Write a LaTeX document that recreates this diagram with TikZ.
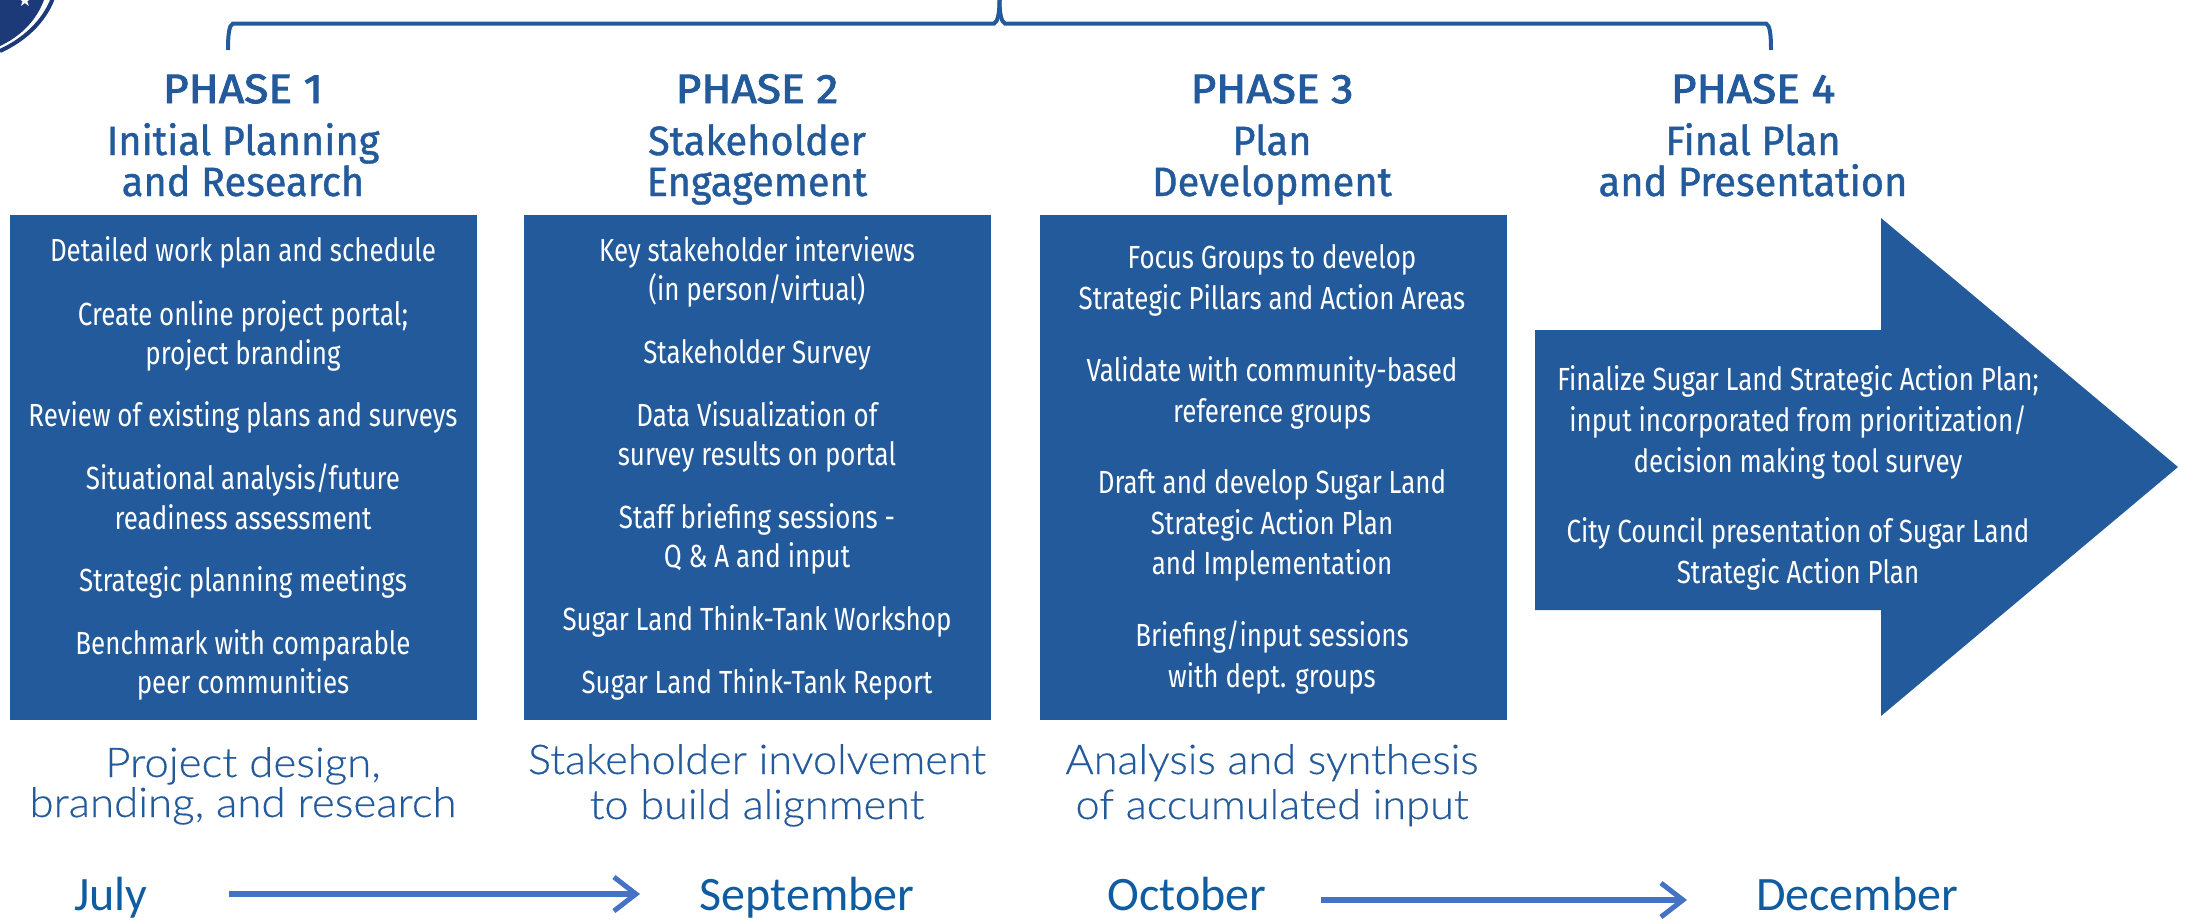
\documentclass[tikz,border=0pt]{standalone}
\usepackage{fontspec}
\usetikzlibrary{arrows.meta}
\setmainfont{Fira Sans}
\newfontfamily\phasef[FakeStretch=1.08,FakeBold=2.4]{Fira Sans}
\newfontfamily\headf[FakeStretch=0.97,FakeBold=1.0]{Fira Sans}
\newfontfamily\bodyf[FakeStretch=0.81]{Fira Sans}
\newfontfamily\capf[FakeStretch=1.055,FakeBold=0.4]{Lato Light}
\newfontfamily\capwf[FakeStretch=1.07,FakeBold=0.4]{Lato Light}
\newfontfamily\monthf{Carlito}
\newfontfamily\symf{DejaVu Sans}
\definecolor{brand}{HTML}{235A9C}
\definecolor{navy}{HTML}{1D3A78}
\definecolor{arrowblue}{HTML}{4472C4}
\definecolor{monthblue}{HTML}{0F5CA0}
\tikzset{
  x=1pt,y=-1pt,
  phasehead/.style={anchor=base,text=brand,font=\phasef\fontsize{41}{41}\selectfont,inner sep=0pt},
  phasetitle/.style={anchor=base,yshift=-1pt,text=brand,font=\headf\fontsize{41}{41}\selectfont,inner sep=0pt},
  item/.style={anchor=base,yshift=-1pt,text=white,font=\bodyf\fontsize{32}{32}\selectfont,inner sep=0pt},
  capt/.style={anchor=base,text=brand,font=\capf\fontsize{41}{41}\selectfont,inner sep=0pt},
  captw/.style={capt,font=\capwf\fontsize{41}{41}\selectfont},
  month/.style={anchor=base,text=monthblue,font=\monthf\fontsize{48}{48}\selectfont,inner sep=0pt},
  panel/.style={fill=brand,draw=none},
  brace/.style={draw=brand,line width=4pt},
  timeline/.style={draw=arrowblue,line width=6pt,-{Straight Barb[length=22pt,width=34pt,line width=5pt]}}
}
\begin{document}
\begin{tikzpicture}
\useasboundingbox (0,0) rectangle (2189,919);
% logo corner
\fill[navy] (0,0) -- (44,0) .. controls (35,24) and (17,38) .. (0,46) -- cycle;
\draw[navy,line width=4pt] (53,-2) .. controls (44,22) and (24,40) .. (0,51);
\node[text=white,font=\symf\fontsize{17}{17}\selectfont,inner sep=0pt] (star) at (25,0) {★};
% bracket
\coordinate (bl) at (228,50); \coordinate (bm) at (999.5,0); \coordinate (br) at (1771,50);
\draw[brace] (bl) .. controls (228,35) and (229,25) .. (233,23.5) -- (994,23.5) .. controls (998,22) and (999.5,12) .. (bm);
\draw[brace] (br) .. controls (1771,35) and (1770,25) .. (1766,23.5) -- (1005,23.5) .. controls (1001,22) and (999.5,12) .. (bm);
% panels
\fill[panel] (10,215) rectangle (477,720);
\fill[panel] (524,215) rectangle (991,720);
\fill[panel] (1040,215) rectangle (1507,720);
\fill[panel] (1535,330) -- (1881,330) -- (1881,218) -- (2178,467) -- (1881,716) -- (1881,610) -- (1535,610) -- cycle;
% headings
\node[phasehead] (p1) at (243,103) {PHASE 1};
\node[phasetitle] (t1a) at (243,154) {Initial Planning};
\node[phasetitle] (t1b) at (243,195) {and Research};
\node[phasehead] (p2) at (757,103) {PHASE 2};
\node[phasetitle] (t2a) at (757,154) {Stakeholder};
\node[phasetitle] (t2b) at (757,195) {Engagement};
\node[phasehead] (p3) at (1272,103) {PHASE 3};
\node[phasetitle] (t3a) at (1272,154) {Plan};
\node[phasetitle] (t3b) at (1272,195) {Development};
\node[phasehead] (p4) at (1753,103) {PHASE 4};
\node[phasetitle] (t4a) at (1753,154) {Final Plan};
\node[phasetitle] (t4b) at (1753,195) {and Presentation};
% box 1
\node[item] (a1) at (243,260) {Detailed work plan and schedule};
\node[item] (a2) at (243,324) {Create online project portal;};
\node[item] (a3) at (243,363) {project branding};
\node[item] (a4) at (243,425) {Review of existing plans and surveys};
\node[item] (a5) at (243,488) {Situational analysis/future};
\node[item] (a6) at (243,528) {readiness assessment};
\node[item] (a7) at (243,590) {Strategic planning meetings};
\node[item] (a8) at (243,653) {Benchmark with comparable};
\node[item] (a9) at (243,692) {peer communities};
% box 2
\node[item] (b1) at (757,260) {Key stakeholder interviews};
\node[item] (b2) at (757,299) {(in person/virtual)};
\node[item] (b3) at (757,362) {Stakeholder Survey};
\node[item] (b4) at (757,425) {Data Visualization of};
\node[item] (b5) at (757,464) {survey results on portal};
\node[item] (b6) at (757,527) {Staff briefing sessions -};
\node[item] (b7) at (757,566) {Q \& A and input};
\node[item] (b8) at (757,629) {Sugar Land Think-Tank Workshop};
\node[item] (b9) at (757,692) {Sugar Land Think-Tank Report};
% box 3
\node[item] (c1) at (1272,267) {Focus Groups to develop};
\node[item] (c2) at (1272,308) {Strategic Pillars and Action Areas};
\node[item] (c3) at (1272,380) {Validate with community-based};
\node[item] (c4) at (1272,421) {reference groups};
\node[item] (c5) at (1272,492) {Draft and develop Sugar Land};
\node[item] (c6) at (1272,533) {Strategic Action Plan};
\node[item] (c7) at (1272,573) {and Implementation};
\node[item] (c8) at (1272,645) {Briefing/input sessions};
\node[item] (c9) at (1272,686) {with dept. groups};
% arrow
\node[item] (d1) at (1798,389) {Finalize Sugar Land Strategic Action Plan;};
\node[item] (d2) at (1798,430) {input incorporated from prioritization/};
\node[item] (d3) at (1798,471) {decision making tool survey};
\node[item] (d4) at (1798,541) {City Council presentation of Sugar Land};
\node[item] (d5) at (1798,582) {Strategic Action Plan};
% captions
\node[captw] (e1) at (243,777) {Project design,};
\node[captw] (e2) at (243,817) {branding, and research};
\node[capt] (e3) at (757,774) {Stakeholder involvement};
\node[capt] (e4) at (757,819) {to build alignment};
\node[capt] (e5) at (1272,774) {Analysis and synthesis};
\node[capt] (e6) at (1272,819) {of accumulated input};
% months
\node[month] (july) at (111,910) {July};
\node[month] (sep) at (807,910) {September};
\node[month] (oct) at (1187,910) {October};
\node[month] (dec) at (1857,910) {December};
\coordinate (ta1) at (229,894); \coordinate (ta2) at (640,894);
\coordinate (tb1) at (1321,900); \coordinate (tb2) at (1687,900);
\draw[timeline] (ta1) -- (ta2);
\draw[timeline] (tb1) -- (tb2);
\end{tikzpicture}
\end{document}
